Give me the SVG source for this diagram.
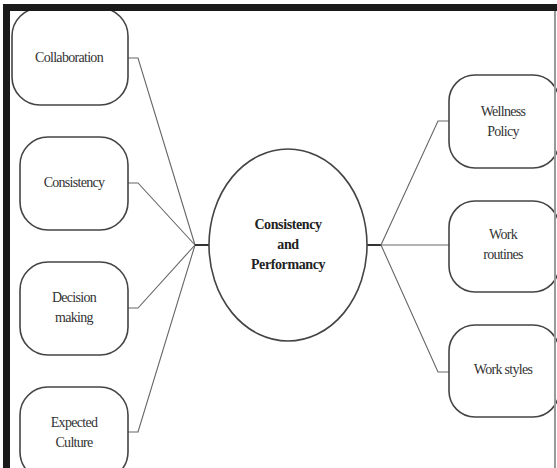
<svg xmlns="http://www.w3.org/2000/svg" width="557" height="468" viewBox="0 0 557 468">
<style>
.box{fill:#fff;stroke:#444;stroke-width:1.6}
.t{font-family:"Liberation Serif","DejaVu Serif",serif;font-size:14px;fill:#333;text-anchor:middle;letter-spacing:-0.7px}
.tb{font-family:"Liberation Serif","DejaVu Serif",serif;font-size:14px;font-weight:bold;fill:#222;text-anchor:middle;letter-spacing:-0.4px}
.c{fill:none;stroke:#666;stroke-width:1.1}
.ch{fill:none;stroke:#333;stroke-width:2}
</style>
<rect x="0" y="0" width="557" height="468" fill="#fff"/>
<g id="connectors">
<polyline class="c" points="128,58 138,58 195,245"/>
<polyline class="c" points="128,183 138,183 195,245"/>
<polyline class="c" points="128,308 138,308 195,245"/>
<polyline class="c" points="128,432 138,432 195,245"/>
<line class="ch" x1="195" y1="245" x2="209" y2="245"/>
<line class="ch" x1="367" y1="245" x2="381" y2="245"/>
<polyline class="c" points="449,121 438,121 381,245"/>
<line class="c" x1="381" y1="245" x2="449" y2="245"/>
<polyline class="c" points="449,372 438,372 381,245"/>
</g>
<g id="center">
<ellipse class="box" cx="288" cy="245" rx="79" ry="96"/>
<text class="tb" x="288" y="229">Consistency</text>
<text class="tb" x="288" y="249">and</text>
<text class="tb" x="288" y="269">Performancy</text>
</g>
<g id="collaboration">
<rect class="box" x="12" y="8" width="116" height="97" rx="28"/>
<text class="t" x="69" y="62">Collaboration</text>
</g>
<g id="consistency">
<rect class="box" x="20" y="137" width="108" height="93" rx="28"/>
<text class="t" x="74" y="187">Consistency</text>
</g>
<g id="decision">
<rect class="box" x="20" y="262" width="108" height="93" rx="28"/>
<text class="t" x="74" y="302">Decision</text>
<text class="t" x="74" y="322">making</text>
</g>
<g id="expected">
<rect class="box" x="20" y="387" width="108" height="93" rx="28"/>
<text class="t" x="74" y="427">Expected</text>
<text class="t" x="74" y="447">Culture</text>
</g>
<g id="wellness">
<rect class="box" x="449" y="75" width="110" height="93" rx="26"/>
<text class="t" x="503" y="116">Wellness</text>
<text class="t" x="503" y="136">Policy</text>
</g>
<g id="routines">
<rect class="box" x="449" y="201" width="110" height="91" rx="26"/>
<text class="t" x="503" y="239">Work</text>
<text class="t" x="503" y="259">routines</text>
</g>
<g id="styles">
<rect class="box" x="449" y="325" width="110" height="92" rx="26"/>
<text class="t" x="503" y="374">Work styles</text>
</g>
<g id="frame">
<rect x="3" y="4" width="554" height="7" fill="#1a1a1a"/>
<rect x="3" y="4" width="7" height="464" fill="#1a1a1a"/>
<rect x="554" y="11" width="2" height="457" fill="#999"/>
</g>
</svg>
